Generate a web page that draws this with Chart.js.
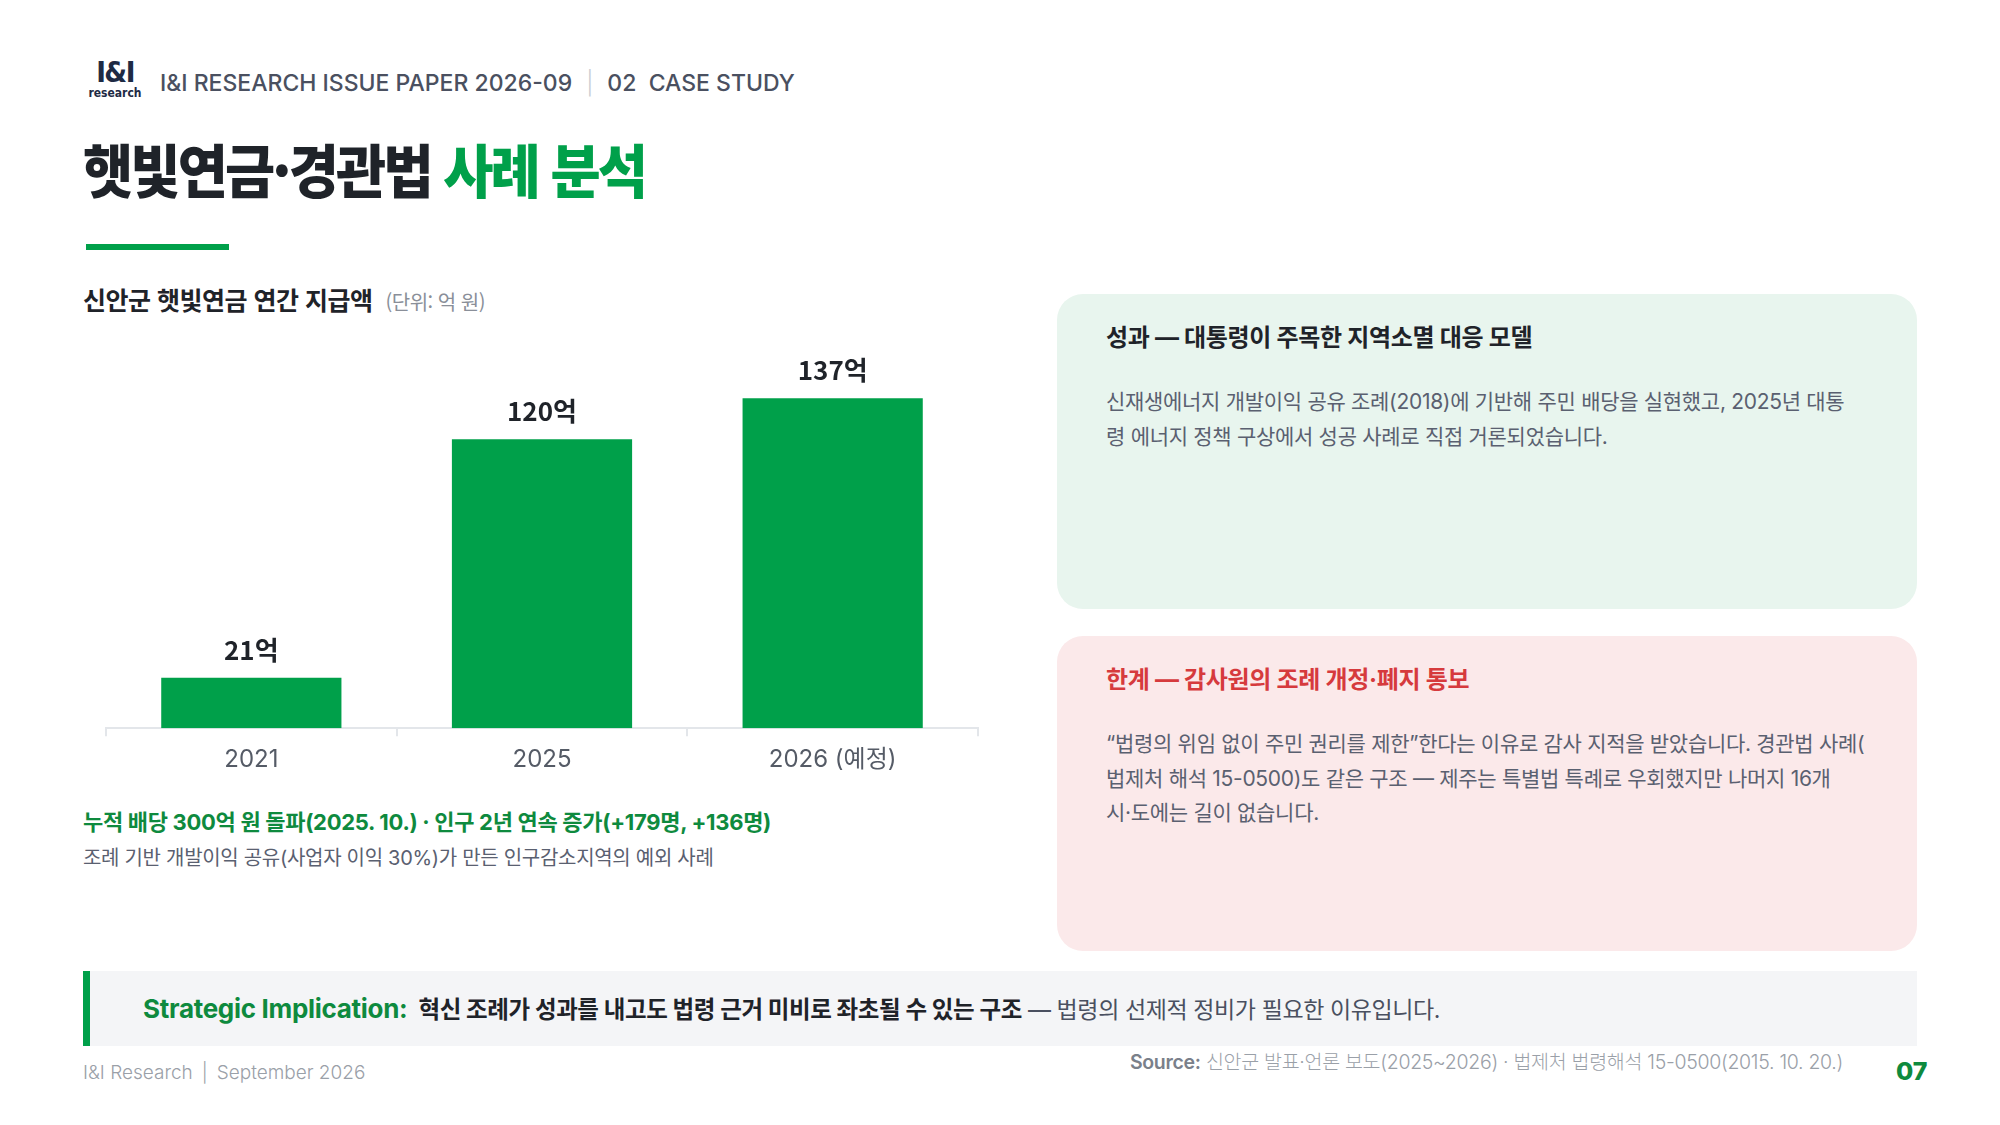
<!DOCTYPE html>
<html lang="ko">
<head>
  <meta charset="UTF-8" />
  <title>햇빛연금·경관법 사례 분석</title>
  <script src="https://cdn.jsdelivr.net/npm/chart.js"></script>
  <style>
    html, body { margin: 0; padding: 0; background: #fff; }
    body {
      width: 2000px; height: 1125px; position: relative; overflow: hidden;
      font-family: 'Inter', 'Noto Sans CJK KR', sans-serif;
      color: #1f2329;
    }
    .abs { position: absolute; white-space: nowrap; }
    .logo { left: 88px; top: 58px; width: 54px; text-align: center; color: #1e2a44; }
    .logo .big { font-family: 'Liberation Sans Narrow', 'DejaVu Sans Condensed', sans-serif; font-weight: 700; font-size: 29px; line-height: 29px; height: 29px; letter-spacing: -1.5px; }
    .logo .small { font-family: 'Liberation Sans Narrow', 'DejaVu Sans Condensed', sans-serif; font-weight: 700; font-size: 12px; line-height: 12px; }
    .header { left: 160px; top: 68px; font-size: 23px; line-height: 30px; font-weight: 500; color: #4a5060; letter-spacing: 0; }
    .header .sep { color: #c8ccd2; margin: 0 14px; font-weight: 300; }
    .title { left: 83px; top: 136px; font-family: 'Noto Sans CJK KR', sans-serif; font-size: 58px; line-height: 64px; font-weight: 900; letter-spacing: -3px; transform: scaleX(0.94); transform-origin: left center; }
    .title .hl { color: #00a04a; }
    .rule { position: absolute; left: 86px; top: 244px; width: 143px; height: 6px; background: #00a04a; }
    .chart-title { left: 83px; top: 284px; line-height: 30px; font-family: 'Noto Sans CJK KR', sans-serif; font-size: 25px; font-weight: 700; letter-spacing: -0.5px; }
    .chart-title .unit { font-size: 20px; font-weight: 400; color: #8a8f99; margin-left: 13px; }
    .chart-box { position: absolute; left: 83px; top: 301px; width: 910px; height: 482px; }
    .note1 { left: 83px; top: 807px; line-height: 30px; font-size: 22px; font-weight: 700; color: #0e8a3e; letter-spacing: -0.3px; }
    .note2 { left: 83px; top: 844px; line-height: 28px; font-size: 20px; font-weight: 400; color: #5a6070; letter-spacing: -0.3px; }
    .panel { position: absolute; left: 1057px; width: 860px; height: 315px; border-radius: 26px; box-sizing: border-box; padding: 29px 40px 0 49px; }
    .panel.good { top: 294px; background: #e8f5ee; }
    .panel.bad { top: 636px; background: #fbe9ea; }
    .panel h3 { margin: 0; font-size: 24px; line-height: 30px; font-weight: 700; letter-spacing: -0.3px; white-space: nowrap; }
    .panel.good h3 { color: #1f2329; }
    .panel.bad h3 { color: #d63a3d; }
    .panel p { margin: 32px 0 0 0; font-size: 21px; line-height: 34.5px; color: #5a6070; letter-spacing: -0.3px; white-space: nowrap; }
    .implication { position: absolute; left: 83px; top: 971px; width: 1834px; height: 75px; box-sizing: border-box; background: #f4f5f7; border-left: 7px solid #00a04a; padding-left: 53px; line-height: 75px; white-space: nowrap; font-size: 23px; letter-spacing: -0.4px; }
    .implication .lead { font-size: 26px; font-weight: 700; color: #0e8a3e; margin-right: 11px; letter-spacing: -0.3px; }
    .implication b { font-size: 23.5px; font-weight: 700; color: #1f2329; }
    .implication .rest { color: #4a5060; }
    .footer { left: 83px; top: 1060px; line-height: 26px; font-size: 19px; font-weight: 300; color: #9aa0a8; }
    .footer .sep { margin: 0 9px; }
    .source { right: 157px; top: 1049px; line-height: 26px; font-size: 19.5px; font-weight: 300; color: #9aa0a8; letter-spacing: -0.3px; }
    .source b { font-weight: 600; color: #7a808a; }
    .page { left: 1896px; top: 1056px; line-height: 30px; font-size: 25px; font-weight: 800; color: #0e8a3e; }
  </style>
</head>
<body>
  <div class="abs logo"><div class="big">I&amp;I</div><div class="small">research</div></div>
  <div class="abs header">I&amp;I RESEARCH ISSUE PAPER 2026-09<span class="sep">|</span>02&nbsp; CASE STUDY</div>
  <div class="abs title">햇빛연금·경관법 <span class="hl">사례 분석</span></div>
  <div class="rule"></div>

  <div class="abs chart-title">신안군 햇빛연금 연간 지급액<span class="unit">(단위: 억 원)</span></div>
  <div class="chart-box"><canvas id="payoutChart"></canvas></div>
  <div class="abs note1">누적 배당 300억 원 돌파(2025. 10.) · 인구 2년 연속 증가(+179명, +136명)</div>
  <div class="abs note2">조례 기반 개발이익 공유(사업자 이익 30%)가 만든 인구감소지역의 예외 사례</div>

  <div class="panel good">
    <h3>성과 — 대통령이 주목한 지역소멸 대응 모델</h3>
    <p>신재생에너지 개발이익 공유 조례(2018)에 기반해 주민 배당을 실현했고, 2025년 대통<br>령 에너지 정책 구상에서 성공 사례로 직접 거론되었습니다.</p>
  </div>
  <div class="panel bad">
    <h3>한계 — 감사원의 조례 개정·폐지 통보</h3>
    <p>“법령의 위임 없이 주민 권리를 제한”한다는 이유로 감사 지적을 받았습니다. 경관법 사례(<br>법제처 해석 15-0500)도 같은 구조 — 제주는 특별법 특례로 우회했지만 나머지 16개<br>시·도에는 길이 없습니다.</p>
  </div>

  <div class="implication"><span class="lead">Strategic Implication:</span><b>혁신 조례가 성과를 내고도 법령 근거 미비로 좌초될 수 있는 구조</b><span class="rest"> — 법령의 선제적 정비가 필요한 이유입니다.</span></div>

  <div class="abs footer">I&amp;I Research<span class="sep">|</span>September 2026</div>
  <div class="abs source"><b>Source:</b> 신안군 발표·언론 보도(2025~2026) · 법제처 법령해석 15-0500(2015. 10. 20.)</div>
  <div class="abs page">07</div>

  <script>
    // 연도별 지급액 (억 원)
    const years = ['2021', '2025', '2026 (예정)'];
    const payouts = [21, 120, 137];
    const valueUnit = '억';
    const yMin = 0;
    const yMax = 160;

    const green = '#00a04a';
    const fontFamily = "Inter, 'Noto Sans CJK KR', sans-serif";

    // bar 위에 값 표시
    const valueLabels = {
      id: 'valueLabels',
      afterDatasetsDraw(chart) {
        const ctx = chart.ctx;
        const meta = chart.getDatasetMeta(0);
        ctx.save();
        ctx.font = "700 26px 'Noto Sans CJK KR', sans-serif";
        ctx.fillStyle = '#1f2329';
        ctx.textAlign = 'center';
        ctx.textBaseline = 'middle';
        meta.data.forEach((bar, i) => {
          const v = chart.data.datasets[0].data[i];
          ctx.fillText(v + valueUnit, bar.x, bar.y - 28);
        });
        ctx.restore();
      }
    };

    const ctx = document.getElementById('payoutChart').getContext('2d');
    new Chart(ctx, {
      type: 'bar',
      data: {
        labels: years,
        datasets: [{
          label: '연간 지급액',
          data: payouts,
          backgroundColor: green,
          borderWidth: 0,
          barPercentage: 0.62,
          categoryPercentage: 1.0
        }]
      },
      options: {
        responsive: true,
        maintainAspectRatio: false,
        animation: false,
        layout: { padding: { top: 42, left: 23, right: 15, bottom: 0 } },
        plugins: {
          legend: { display: false },
          tooltip: { enabled: false },
          title: { display: false }
        },
        scales: {
          y: {
            display: false,
            min: yMin,
            max: yMax
          },
          x: {
            border: { display: true, color: '#e3e6ea', width: 2 },
            grid: {
              display: true,
              drawOnChartArea: false,
              drawTicks: true,
              tickLength: 8,
              tickColor: '#e3e6ea',
              lineWidth: 2
            },
            ticks: {
              color: '#555b66',
              padding: 9,
              font: { family: fontFamily, size: 24, weight: '400' }
            }
          }
        }
      },
      plugins: [valueLabels]
    });
  </script>
</body>
</html>
